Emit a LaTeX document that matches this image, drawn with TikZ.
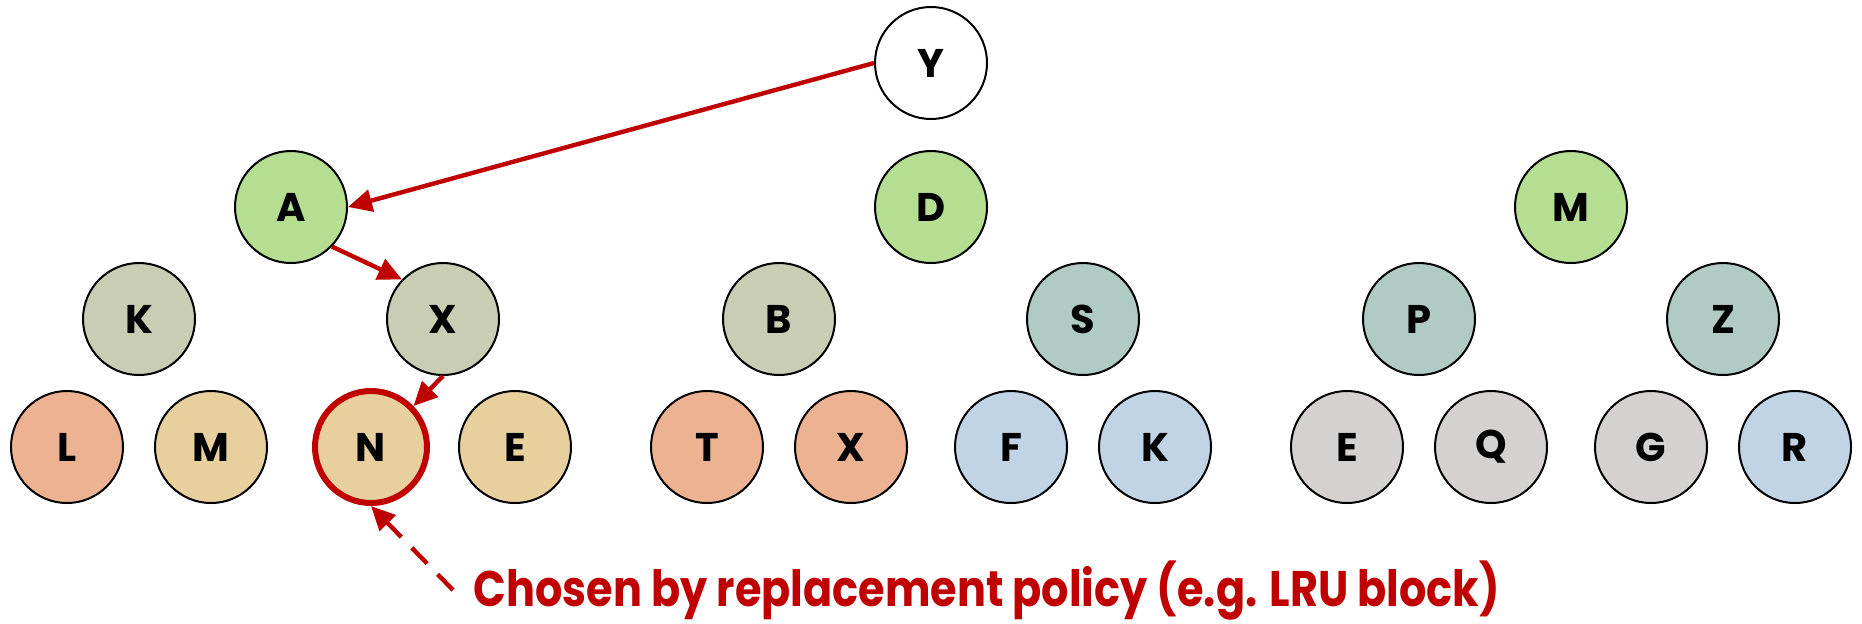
\documentclass[tikz,border=0pt]{standalone}
\usepackage{fontspec}
\setmainfont{Poppins}
\newfontfamily\capfont{Poppins}[FakeStretch=0.86]
\usetikzlibrary{positioning,arrows.meta}
\definecolor{lrured}{RGB}{192,0,0}
\definecolor{rootgreen}{RGB}{182,222,146}
\definecolor{lvlolive}{RGB}{201,205,180}
\definecolor{lvlteal}{RGB}{176,203,196}
\definecolor{leafsalmon}{RGB}{236,178,146}
\definecolor{leaftan}{RGB}{232,208,158}
\definecolor{leafblue}{RGB}{192,212,230}
\definecolor{leafgrey}{RGB}{213,209,208}

\begin{document}
\begin{tikzpicture}[x=0.5pt, y=-0.5pt, on grid]
	\newcommand\tdx{320pt}
	\newcommand\sdx{76pt}
	\newcommand\ldx{36pt}
	\newcommand\ydy{72pt}
	\newcommand\sdy{56pt}
	\newcommand\ldy{64pt}
	\tikzset{
		blk/.style={circle, draw=black, line width=1pt, minimum size=56pt, inner sep=0pt,
			font=\bfseries\fontsize{20}{20}\selectfont},
		victim/.style={blk, draw=lrured, line width=3pt},
		ptr/.style={draw=lrured, line width=2.2pt, -{Triangle[length=12pt, width=11pt]}},
		hint/.style={ptr, dash pattern=on 11pt off 7.5pt},
	}
	\useasboundingbox (0,0) rectangle (1862,623);
	% incoming block
	\node[blk, fill=white] (y) at (931,63) {Y};
	% roots
	\node[blk, fill=rootgreen, below=\ydy of y] (d) {D};
	\node[blk, fill=rootgreen, left=\tdx of d] (a) {A};
	\node[blk, fill=rootgreen, right=\tdx of d] (m) {M};
	% second level
	\node[blk, fill=lvlolive, below left=\sdy and \sdx of a] (k) {K};
	\node[blk, fill=lvlolive, below right=\sdy and \sdx of a] (x) {X};
	\node[blk, fill=lvlolive, below left=\sdy and \sdx of d] (b) {B};
	\node[blk, fill=lvlteal, below right=\sdy and \sdx of d] (s) {S};
	\node[blk, fill=lvlteal, below left=\sdy and \sdx of m] (p) {P};
	\node[blk, fill=lvlteal, below right=\sdy and \sdx of m] (z) {Z};
	% leaves
	\node[blk, fill=leafsalmon, below left=\ldy and \ldx of k] (l) {L};
	\node[blk, fill=leaftan, below right=\ldy and \ldx of k] (m2) {M};
	\node[victim, fill=leaftan, below left=\ldy and \ldx of x] (n) {N};
	\node[blk, fill=leaftan, below right=\ldy and \ldx of x] (e1) {E};
	\node[blk, fill=leafsalmon, below left=\ldy and \ldx of b] (t) {T};
	\node[blk, fill=leafsalmon, below right=\ldy and \ldx of b] (x2) {X};
	\node[blk, fill=leafblue, below left=\ldy and \ldx of s] (f) {F};
	\node[blk, fill=leafblue, below right=\ldy and \ldx of s] (k2) {K};
	\node[blk, fill=leafgrey, below left=\ldy and \ldx of p] (e2) {E};
	\node[blk, fill=leafgrey, below right=\ldy and \ldx of p] (q) {Q};
	\node[blk, fill=leafgrey, below left=\ldy and \ldx of z] (g) {G};
	\node[blk, fill=leafblue, below right=\ldy and \ldx of z] (r) {R};
	% caption
	\node[anchor=base west, inner sep=0pt, text=lrured,
		font=\capfont\bfseries\fontsize{25}{25}\selectfont] (pol) at (473,606)
		{Chosen by replacement policy (e.g. LRU block)};

	\draw[ptr] (y.west) -- (a.east);
	\draw[ptr] (a.-44) -- (x.136);
	\draw[ptr] (x.south) -- (n.44);
	\draw[hint] ([xshift=-10pt]pol.west) -- (n.south);
\end{tikzpicture}
\end{document}
